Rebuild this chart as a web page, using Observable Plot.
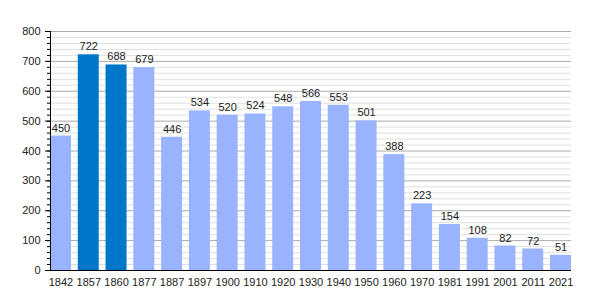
<!DOCTYPE html>
<html><head><meta charset="utf-8">
<script src="https://cdn.jsdelivr.net/npm/d3@7"></script>
<script src="https://cdn.jsdelivr.net/npm/@observablehq/plot@0.6"></script>
<style>body{margin:0;background:#fff}svg{display:block}</style>
</head><body><div id="chart"></div>
<script>
const years = ["1842","1857","1860","1877","1887","1897","1900","1910","1920","1930","1940","1950","1960","1970","1981","1991","2001","2011","2021"];
const values = [450,722,688,679,446,534,520,524,548,566,553,501,388,223,154,108,82,72,51];
const highlighted = ["1857","1860"];
const majorTicks = [0,100,200,300,400,500,600,700,800];
const minorTicks = d3.range(0,801,20);

const data = years.map((y,i)=>({year:y, value:values[i], hl: highlighted.includes(y)}));

const chart = Plot.plot({
  width:600, height:300,
  marginLeft:50, marginRight:29, marginTop:31, marginBottom:30,
  style:{fontFamily:"Liberation Sans, Arial, sans-serif", fontSize:"11px", color:"#222", background:"#fff"},
  x:{domain:years, paddingInner:0.245, paddingOuter:0, round:false, label:null},
  y:{domain:[0,800], label:null},
  marks:[
    Plot.ruleY(minorTicks.filter(d=>d%100!==0), {stroke:"#e0e0e0", strokeWidth:1}),
    Plot.ruleY(majorTicks.filter(d=>d>0), {stroke:"#aaaaaa", strokeWidth:1}),
    Plot.barY(data, {x:"year", y:"value", fill:d=>d.hl?"#0077c8":"#99b3ff"}),
    Plot.text(data, {x:"year", y:"value", text:d=>String(d.value), dy:-8, fill:"#222", fontSize:11}),
    Plot.axisY({ticks:minorTicks, tickSize:3, text:null, stroke:"#000", label:null}),
    Plot.axisY({ticks:majorTicks, tickSize:5, tickPadding:5, stroke:"#000", fill:"#222", label:null}),
    Plot.axisX({tickSize:0, tickPadding:8, fill:"#222", label:null}),
    Plot.ruleY([0], {stroke:"#000"})
  ]
});
document.getElementById("chart").appendChild(chart);
d3.select(chart).append("line").attr("x1",50.5).attr("x2",50.5).attr("y1",31).attr("y2",270).attr("stroke","#000");
</script></body></html>
